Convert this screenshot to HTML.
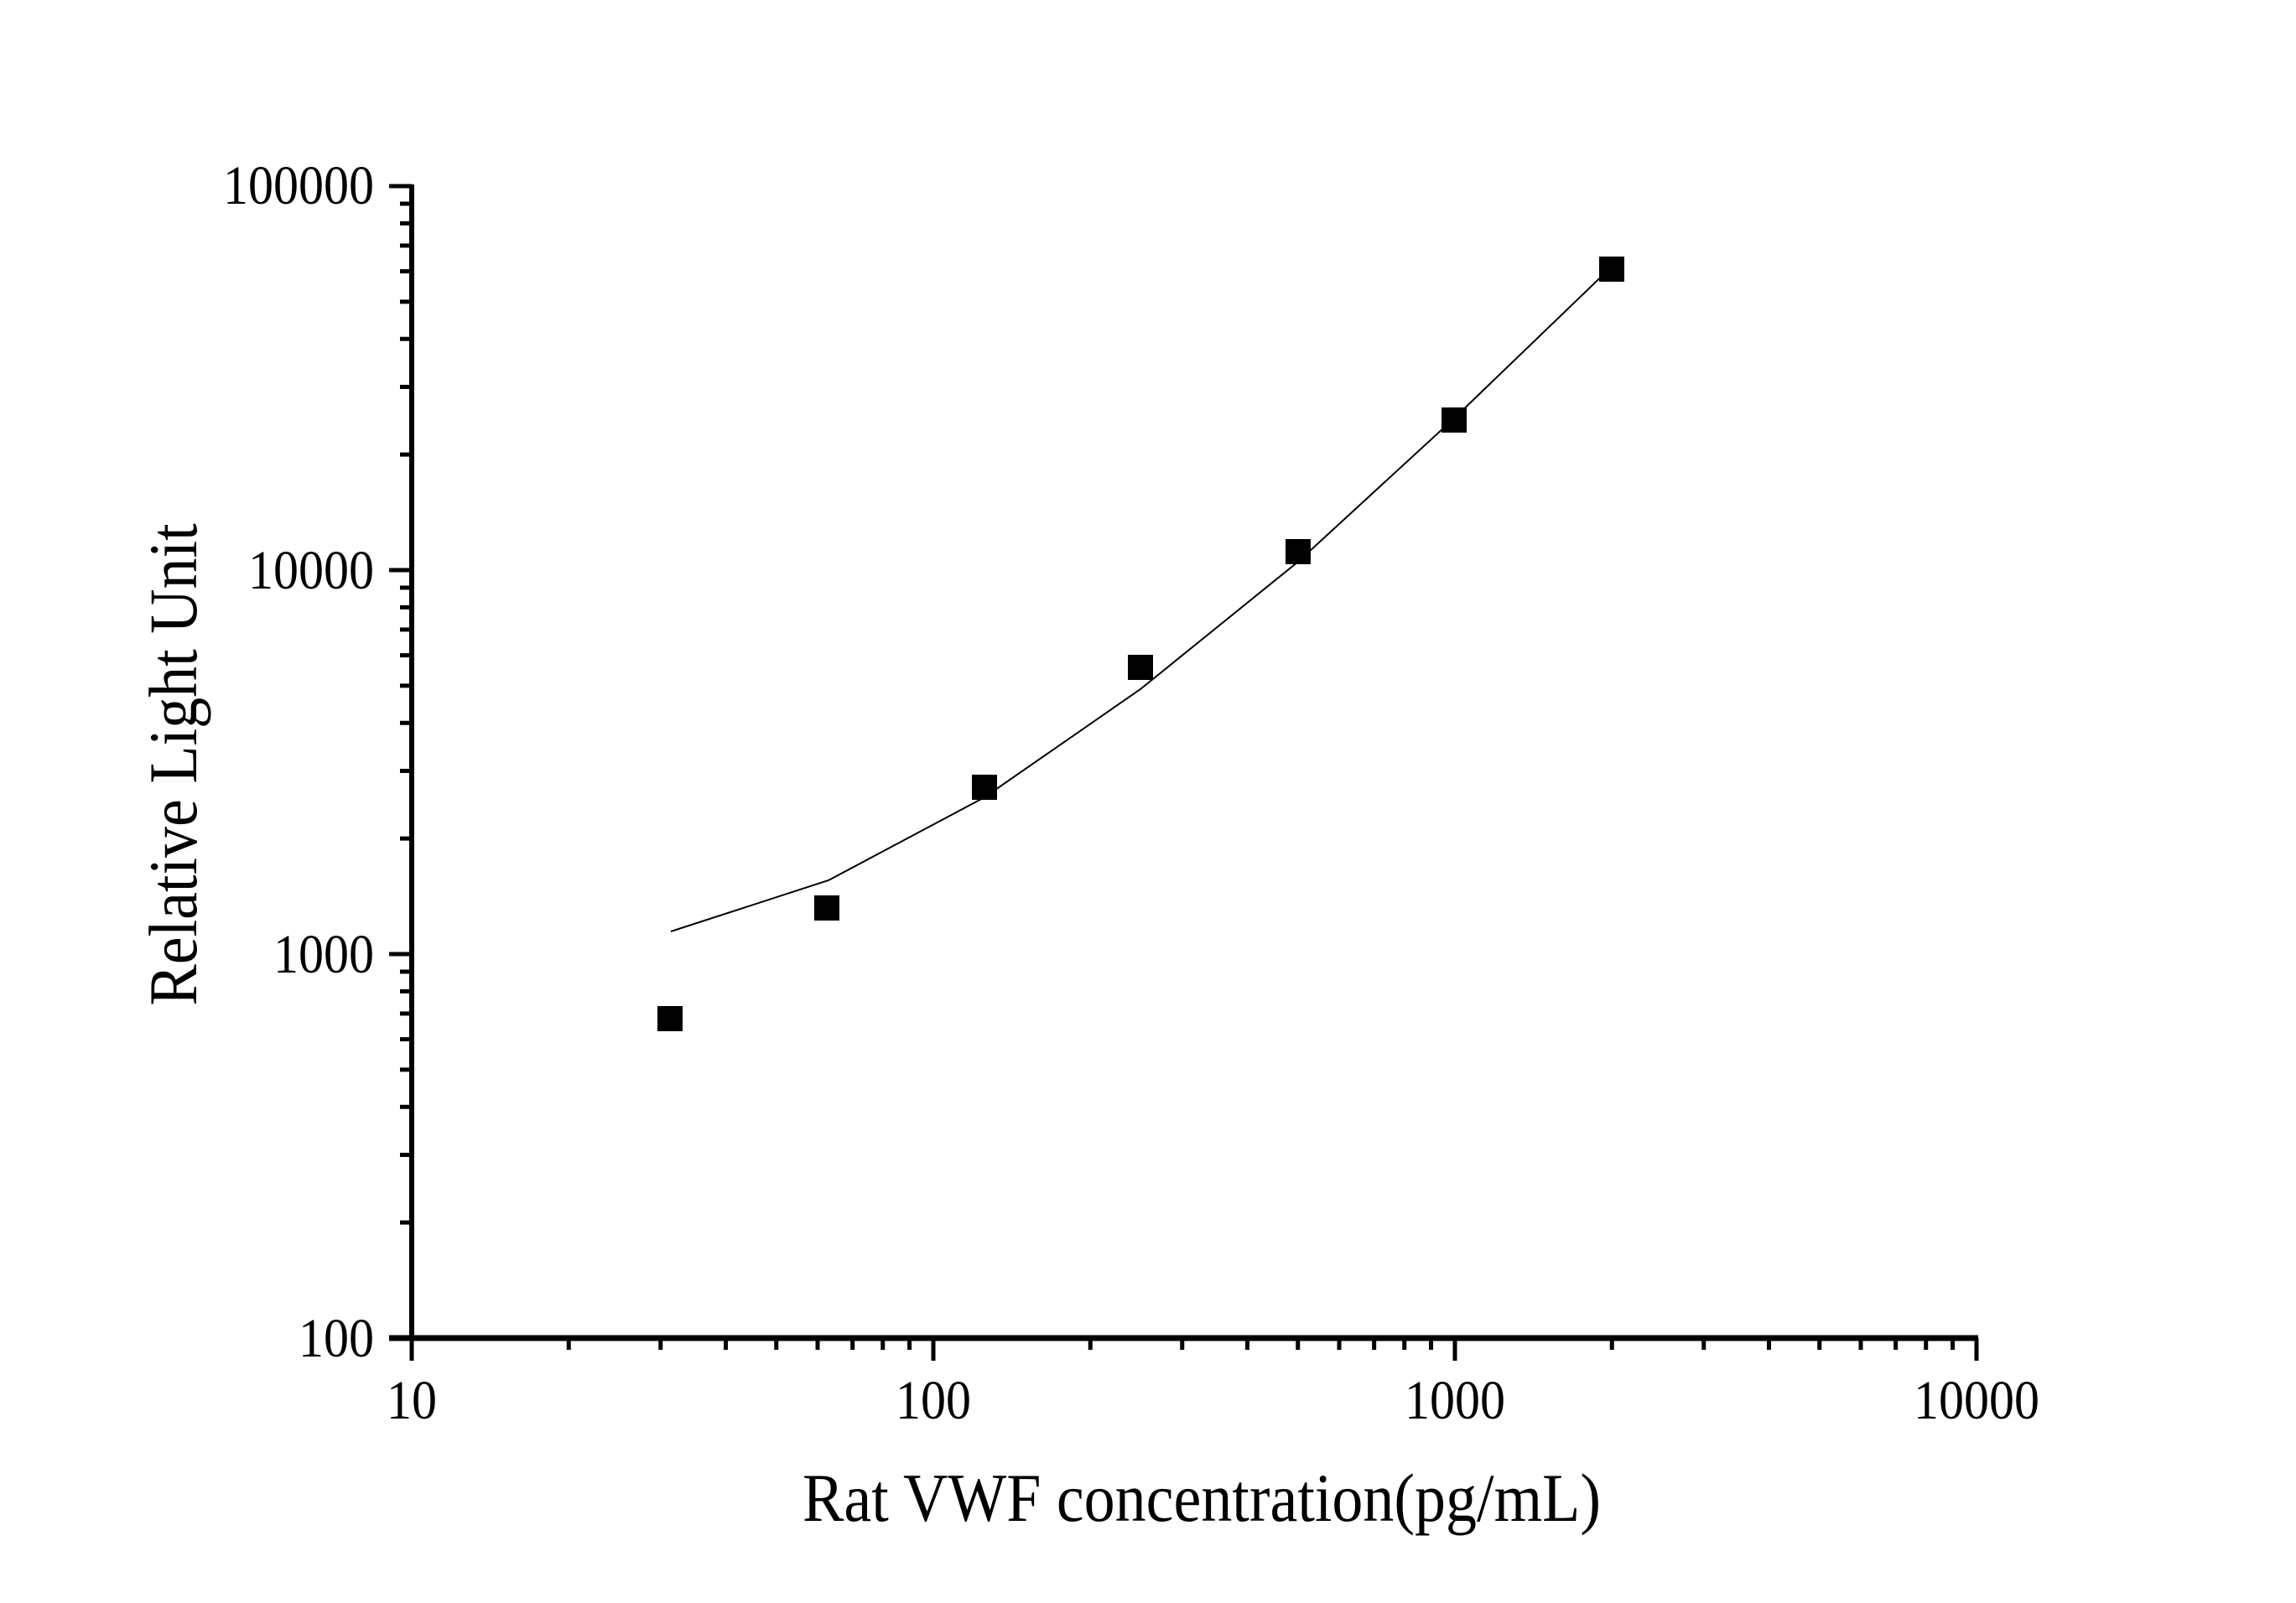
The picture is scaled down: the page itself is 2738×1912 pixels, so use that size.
<!DOCTYPE html>
<html><head><meta charset="utf-8"><style>
html,body{margin:0;padding:0;background:#fff;}
svg{display:block;}
text{font-family:"Liberation Serif","Times New Roman",serif;fill:#000;}
</style></head><body>
<svg width="2738" height="1912" viewBox="0 0 2738 1912" xmlns="http://www.w3.org/2000/svg">
<g id="ticks" stroke="#000" stroke-width="5"></g>
<line x1="491" y1="220" x2="491" y2="1598" stroke="#000" stroke-width="6"/>
<line x1="464" y1="1596" x2="2359" y2="1596" stroke="#000" stroke-width="7"/>
<g font-size="60" text-anchor="end">
<text transform="translate(446,243) scale(1,1.1)">100000</text>
<text transform="translate(446,702) scale(1,1.1)">10000</text>
<text transform="translate(446,1160) scale(1,1.1)">1000</text>
<text transform="translate(446,1618) scale(1,1.1)">100</text>
</g>
<g font-size="60" text-anchor="middle">
<text transform="translate(491,1692) scale(1,1.1)">10</text>
<text transform="translate(1113,1692) scale(1,1.1)">100</text>
<text transform="translate(1735,1692) scale(1,1.1)">1000</text>
<text transform="translate(2357,1692) scale(1,1.1)">10000</text>
</g>
<text transform="translate(1433,1814) scale(1,1.1)" font-size="74" text-anchor="middle">Rat VWF concentration(pg/mL)</text>
<text transform="translate(234,912) rotate(-90) scale(1,1.1)" font-size="74" text-anchor="middle">Relative Light Unit</text>
<polyline fill="none" stroke="#000" stroke-width="2" points="800,1111 988,1050 1174,951 1360,822 1548,670 1734,499 1922,318"/>
<g fill="#000">
<rect x="784" y="1200" width="30" height="30"/>
<rect x="971" y="1068" width="30" height="30"/>
<rect x="1159" y="924" width="30" height="30"/>
<rect x="1345" y="781" width="30" height="30"/>
<rect x="1533" y="643" width="30" height="30"/>
<rect x="1719" y="486" width="30" height="30"/>
<rect x="1907" y="306" width="30" height="30"/>
</g>
<script>
(function(){
var g=document.getElementById('ticks'),ns='http://www.w3.org/2000/svg';
function L(x1,y1,x2,y2){var l=document.createElementNS(ns,'line');l.setAttribute('x1',x1);l.setAttribute('y1',y1);l.setAttribute('x2',x2);l.setAttribute('y2',y2);g.appendChild(l);}
var x0=491,dx=622,y0=1596,dy=458;
for(var d=0;d<3;d++){for(var k=1;k<10;k++){var x=x0+dx*(d+Math.log10(k));if(k==1)L(x,1596,x,1623);else L(x,1596,x,1610);}}
L(x0+3*dx,1596,x0+3*dx,1623);
for(var d=0;d<3;d++){for(var k=1;k<10;k++){var y=y0-dy*(d+Math.log10(k));if(k==1)L(491,y,464,y);else L(491,y,477,y);}}
L(491,y0-3*dy,464,y0-3*dy);
})();
</script>
</svg>
</body></html>
